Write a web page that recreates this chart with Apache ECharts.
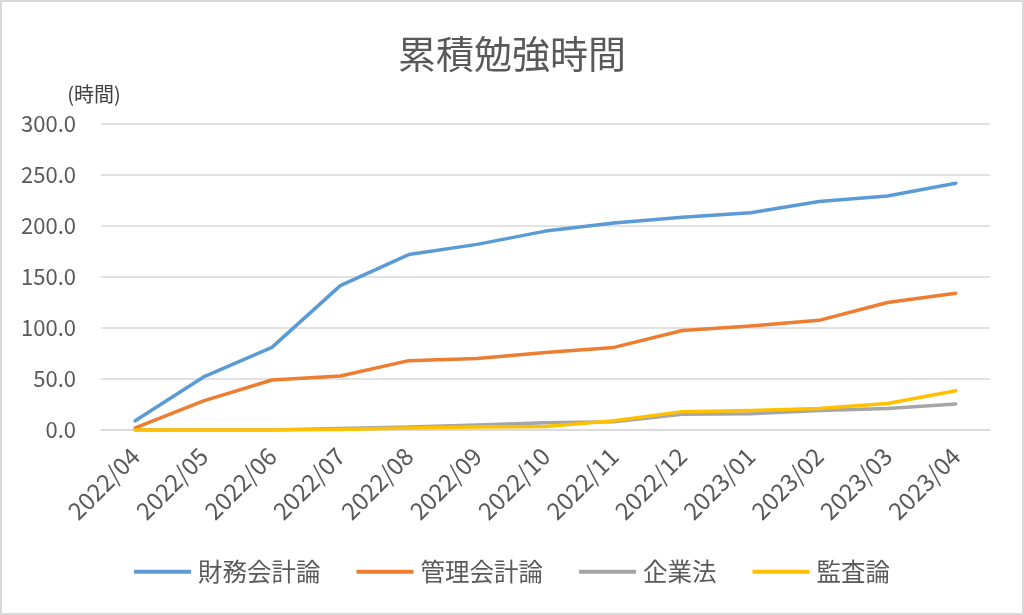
<!DOCTYPE html>
<html><head><meta charset="utf-8">
<script src="https://cdn.jsdelivr.net/npm/echarts@6/dist/echarts.min.js"></script>
<style>html,body{margin:0;padding:0;background:#fff}#c{width:1024px;height:615px}</style>
</head><body><div id="c"></div>
<script>
const categories = ['2022/04','2022/05','2022/06','2022/07','2022/08','2022/09','2022/10','2022/11','2022/12','2023/01','2023/02','2023/03','2023/04'];
const seriesNames = ['財務会計論','管理会計論','企業法','監査論'];
const financial = [9, 52, 81, 141.5, 172, 182, 195, 203, 208.5, 213, 224, 229.5, 242];
const management = [2, 28.5, 49, 53, 68, 70, 76, 81, 97.5, 102, 107.5, 125, 134];
const corporateLaw = [0, 0, 0, 1.5, 3, 5, 7, 8, 15.5, 16, 19, 21, 25.5];
const audit = [0, 0, 0, 0.5, 2, 3, 3.5, 9, 18, 19, 21, 26, 38.5];
const yTicks = [0, 50, 100, 150, 200, 250, 300];
const colors = ['#5B9BD5','#ED7D31','#A5A5A5','#FFC000'];
const font = '"Noto Sans CJK JP", "Noto Sans", sans-serif';
const values = [financial, management, corporateLaw, audit];

const chart = echarts.init(document.getElementById('c'));
chart.setOption({
  animation: false,
  color: colors,
  textStyle: { fontFamily: font },
  graphic: [{
    type: 'rect', shape: { x: 1, y: 1, width: 1022, height: 613 },
    style: { fill: 'none', stroke: '#d9d9d9', lineWidth: 2 }, silent: true
  }],
  title: {
    text: '累積勉強時間', left: 'center', top: 30,
    textStyle: { fontFamily: font, fontSize: 38, fontWeight: 'normal', color: '#595959' }
  },
  legend: {
    data: seriesNames, bottom: 26, left: 'center',
    icon: 'rect', itemWidth: 57, itemHeight: 4, itemGap: 36,
    textStyle: { fontFamily: font, fontSize: 24.5, color: '#595959', padding: [0, 0, 0, 2] }
  },
  grid: { left: 101, right: 34, top: 124, bottom: 185, containLabel: false },
  xAxis: {
    type: 'category', data: categories, boundaryGap: true,
    axisLine: { show: true, lineStyle: { color: '#d9d9d9', width: 1.5 } },
    axisTick: { show: false },
    axisLabel: { rotate: 45, fontFamily: font, fontSize: 24, color: '#595959', margin: 22, interval: 0 }
  },
  yAxis: {
    type: 'value', min: yTicks[0], max: yTicks[yTicks.length - 1], interval: 50,
    name: '(時間)', nameLocation: 'end', nameGap: 20,
    nameTextStyle: { fontFamily: font, fontSize: 20, color: '#404040', align: 'center', padding: [0, 0, 0, -14] },
    axisLine: { show: false }, axisTick: { show: false },
    splitLine: { lineStyle: { color: '#d9d9d9', width: 1.5 } },
    axisLabel: { fontFamily: font, fontSize: 22, color: '#595959', margin: 25,
      formatter: v => v.toFixed(1) }
  },
  series: seriesNames.map((n, i) => ({
    name: n, type: 'line', data: values[i], symbol: 'none',
    lineStyle: { width: 3.5, color: colors[i], cap: 'round', join: 'round' },
    itemStyle: { color: colors[i] }
  }))
});
</script></body></html>
